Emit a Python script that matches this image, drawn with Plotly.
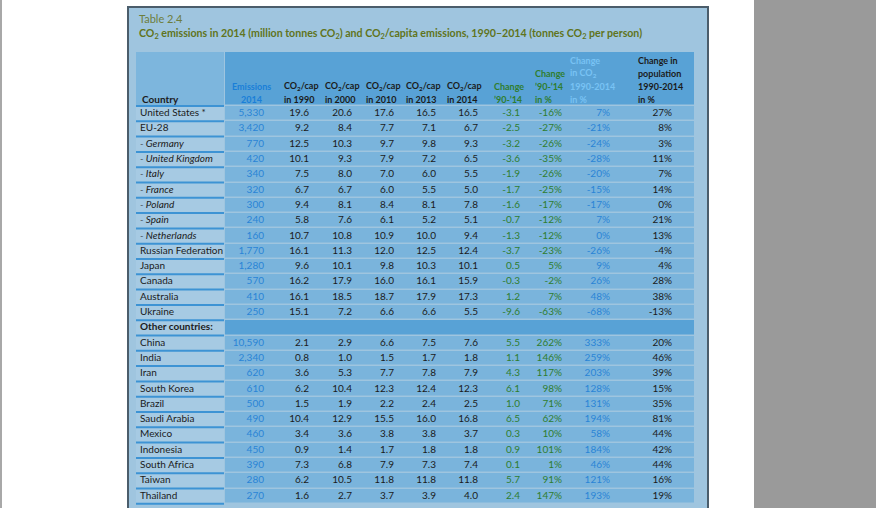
#!/usr/bin/env python3
# Table 2.4 - CO2 emissions 2014 and CO2/capita 1990-2014
# Cells are heatmaps on a pixel-like x axis and a row-index y axis,
# the figures are scatter text traces on the same axes.

import plotly.graph_objects as go

countries = ["United States *", "EU-28", "<i>- Germany</i>", "<i>- United Kingdom</i>", "<i>- Italy</i>",
             "<i>- France</i>", "<i>- Poland</i>", "<i>- Spain</i>", "<i>- Netherlands</i>",
             "Russian Federation", "Japan", "Canada", "Australia", "Ukraine",
             "<b>Other countries:</b>",
             "China", "India", "Iran", "South Korea", "Brazil", "Saudi Arabia", "Mexico",
             "Indonesia", "South Africa", "Taiwan", "Thailand"]

emissions_2014 = [5330, 3420, 770, 420, 340, 320, 300, 240, 160, 1770, 1280, 570, 410, 250, None,
                  10590, 2340, 620, 610, 500, 490, 460, 450, 390, 280, 270]
cap_1990 = [19.6, 9.2, 12.5, 10.1, 7.5, 6.7, 9.4, 5.8, 10.7, 16.1, 9.6, 16.2, 16.1, 15.1, None,
            2.1, 0.8, 3.6, 6.2, 1.5, 10.4, 3.4, 0.9, 7.3, 6.2, 1.6]
cap_2000 = [20.6, 8.4, 10.3, 9.3, 8.0, 6.7, 8.1, 7.6, 10.8, 11.3, 10.1, 17.9, 18.5, 7.2, None,
            2.9, 1.0, 5.3, 10.4, 1.9, 12.9, 3.6, 1.4, 6.8, 10.5, 2.7]
cap_2010 = [17.6, 7.7, 9.7, 7.9, 7.0, 6.0, 8.4, 6.1, 10.9, 12.0, 9.8, 16.0, 18.7, 6.6, None,
            6.6, 1.5, 7.7, 12.3, 2.2, 15.5, 3.8, 1.7, 7.9, 11.8, 3.7]
cap_2013 = [16.5, 7.1, 9.8, 7.2, 6.0, 5.5, 8.1, 5.2, 10.0, 12.5, 10.3, 16.1, 17.9, 6.6, None,
            7.5, 1.7, 7.8, 12.4, 2.4, 16.0, 3.8, 1.8, 7.3, 11.8, 3.9]
cap_2014 = [16.5, 6.7, 9.3, 6.5, 5.5, 5.0, 7.8, 5.1, 9.4, 12.4, 10.1, 15.9, 17.3, 5.5, None,
            7.6, 1.8, 7.9, 12.3, 2.5, 16.8, 3.7, 1.8, 7.4, 11.8, 4.0]
change_abs = [-3.1, -2.5, -3.2, -3.6, -1.9, -1.7, -1.6, -0.7, -1.3, -3.7, 0.5, -0.3, 1.2, -9.6, None,
              5.5, 1.1, 4.3, 6.1, 1.0, 6.5, 0.3, 0.9, 0.1, 5.7, 2.4]
change_pct = [-16, -27, -26, -35, -26, -25, -17, -12, -12, -23, 5, -2, 7, -63, None,
              262, 146, 117, 98, 71, 62, 10, 101, 1, 91, 147]
change_co2_pct = [7, -21, -24, -28, -20, -15, -17, 7, 0, -26, 9, 26, 48, -68, None,
                  333, 259, 203, 128, 131, 194, 58, 184, 46, 121, 193]
change_pop_pct = [27, 8, 3, 11, 7, 14, 0, 21, 13, -4, 4, 28, 38, -13, None,
                  20, 46, 39, 15, 35, 81, 44, 42, 44, 16, 19]

headers = ["Country", "Emissions<br>2014",
           "CO<sub>2</sub>/cap<br>in 1990", "CO<sub>2</sub>/cap<br>in 2000",
           "CO<sub>2</sub>/cap<br>in 2010", "CO<sub>2</sub>/cap<br>in 2013",
           "CO<sub>2</sub>/cap<br>in 2014", "Change<br>’90-’14",
           "Change<br>’90-’14<br>in %",
           "Change<br>in CO<sub>2</sub><br>1990-2014<br>in %",
           "Change in<br>population<br>1990-2014<br>in %"]

W, H = 876, 522
ROW_TOP, ROW_H, HEAD_TOP = 106, 15.3, 52
HEAD_LINES = [60, 73, 86, 99]   # centres of the four header text lines


def fx(x):
    return x / W


def fy(y):
    return 1 - y / H


def row_of(y_px):
    # pixel row -> row-index coordinate on the y axis
    return (y_px - ROW_TOP) / ROW_H - 0.5


def fmt(vals, f):
    # (row, label) pairs, skipping the empty section row
    return [(i, f(v)) for i, v in enumerate(vals) if v is not None]


n_rows = len(countries)
rows = list(range(n_rows))
section_row = countries.index("<b>Other countries:</b>")
head_edge = row_of(HEAD_TOP)
y_edges = [head_edge] + [i - 0.5 for i in range(n_rows + 1)]

dark = "#1b1b1b"
green = "#2f7d2f"
lblue = "#2a84d6"

value_cols = [
    (fmt(emissions_2014, lambda v: f"{v:,}"), 264, lblue),
    (fmt(cap_1990, lambda v: f"{v:.1f}"), 309, dark),
    (fmt(cap_2000, lambda v: f"{v:.1f}"), 352, dark),
    (fmt(cap_2010, lambda v: f"{v:.1f}"), 394, dark),
    (fmt(cap_2013, lambda v: f"{v:.1f}"), 436, dark),
    (fmt(cap_2014, lambda v: f"{v:.1f}"), 478, dark),
    (fmt(change_abs, lambda v: f"{v:.1f}"), 520, green),
    (fmt(change_pct, lambda v: f"{v}%"), 562, green),
    (fmt(change_co2_pct, lambda v: f"{v}%"), 610, lblue),
    (fmt(change_pop_pct, lambda v: f"{v}%"), 672, dark),
]
head_x = [140, 251, 282, 323, 364, 404, 445, 492, 533, 568, 636]
head_colors = [dark, "#1a7fd8", dark, dark, dark, dark, dark, green, green, "#78c3f4", dark]

# cell colour codes: 0 country, 1 country header, 2 data, 3 header / section band
cscale = [[0, "#a6cae3"], [0.25, "#a6cae3"], [0.25, "#7db6dd"], [0.5, "#7db6dd"],
          [0.5, "#7ab4dc"], [0.75, "#7ab4dc"], [0.75, "#58a2d6"], [1, "#58a2d6"]]

fig = go.Figure()

fig.add_trace(go.Heatmap(
    x=[136, 224], y=y_edges,
    z=[[1]] + [[0] for _ in rows],
    zmin=0, zmax=3, colorscale=cscale, showscale=False, hoverinfo="skip",
))
fig.add_trace(go.Heatmap(
    x=[225, 694], y=y_edges,
    z=[[3]] + [[3 if i == section_row else 2] for i in rows],
    zmin=0, zmax=3, colorscale=cscale, showscale=False, hoverinfo="skip", ygap=1.5,
))

# blue underline below each country cell
ux, uy = [], []
for i in [-1] + rows:
    ux += [136, 224, None]
    uy += [i + 0.5, i + 0.5, None]
fig.add_trace(go.Scatter(x=ux, y=uy, mode="lines", line=dict(color="#3d93d4", width=2),
                         hoverinfo="skip", showlegend=False))

fig.add_trace(go.Scatter(
    x=[140] * n_rows, y=rows, text=countries, mode="text", textposition="middle right",
    textfont=dict(family="Lato", size=10, color=dark), hoverinfo="skip", showlegend=False,
    cliponaxis=False,
))
for cells, xr, color in value_cols:
    fig.add_trace(go.Scatter(
        x=[xr] * len(cells), y=[r for r, _ in cells], text=[t for _, t in cells],
        mode="text", textposition="middle left",
        textfont=dict(family="Lato", size=10, color=color), hoverinfo="skip", showlegend=False,
        cliponaxis=False,
    ))

annotations = [
    dict(text="Table 2.4", x=fx(137), y=fy(19), xref="paper", yref="paper",
         xanchor="left", yanchor="middle", showarrow=False,
         font=dict(family="Lato", size=11, color="#6d7d3c")),
    dict(text="<b>CO<sub>2</sub> emissions in 2014 (million tonnes CO<sub>2</sub>) and "
              "CO<sub>2</sub>/capita emissions, 1990–2014 (tonnes CO<sub>2</sub> per person)</b>",
         x=fx(137), y=fy(34), xref="paper", yref="paper",
         xanchor="left", yanchor="middle", showarrow=False,
         font=dict(family="Lato", size=10.6, color="#607420")),
]
# header lines are bottom aligned: last line sits on the lowest header line
for k, (label, hx, hc) in enumerate(zip(headers, head_x, head_colors)):
    lines = label.split("<br>")
    for line, ly in zip(lines, HEAD_LINES[-len(lines):]):
        annotations.append(dict(
            text="<b>" + line + "</b>",
            x=hx, y=row_of(ly), xref="x", yref="y",
            xanchor="center" if k == 1 else "left", yanchor="middle", showarrow=False,
            font=dict(family="Lato", size=9 if k else 10, color=hc),
        ))

fig.update_layout(
    width=W, height=H,
    margin=dict(l=0, r=0, t=0, b=0),
    paper_bgcolor="white",
    plot_bgcolor="rgba(0,0,0,0)",
    showlegend=False,
    xaxis=dict(range=[0, W], domain=[0, 1], visible=False, fixedrange=True),
    yaxis=dict(range=[row_of(H), row_of(0)], domain=[0, 1], visible=False, fixedrange=True),
    shapes=[
        dict(type="rect", xref="paper", yref="paper", x0=fx(754), x1=1, y0=fy(508), y1=1,
             fillcolor="#9a9a9a", line_width=0, layer="below"),
        dict(type="rect", xref="paper", yref="paper", x0=0, x1=fx(2), y0=fy(508), y1=1,
             fillcolor="#a8a8a8", line_width=0, layer="below"),
        dict(type="rect", xref="paper", yref="paper", x0=fx(128), x1=fx(708), y0=fy(540), y1=fy(7),
             fillcolor="#9fc5df", line=dict(color="#4b5d6b", width=2), layer="below"),
        dict(type="rect", xref="paper", yref="paper", x0=0, x1=1, y0=0, y1=fy(508),
             fillcolor="white", line_width=0, layer="below"),
    ],
    annotations=annotations,
)

fig.write_html("out.html", config={"displayModeBar": False},
               post_script="document.body.style.margin='0';")
